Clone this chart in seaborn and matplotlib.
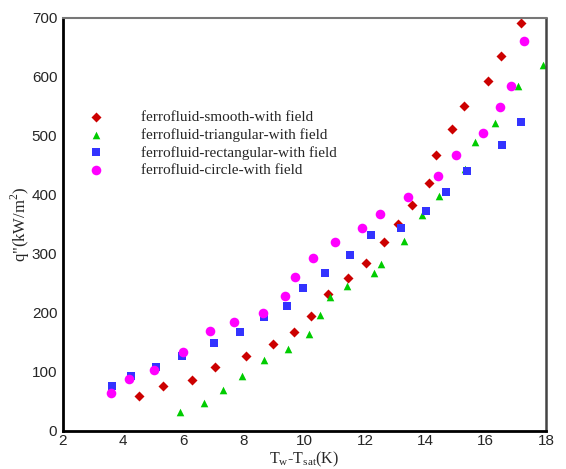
import numpy as np
import pandas as pd
import matplotlib
matplotlib.use("Agg")
import matplotlib.pyplot as plt
import seaborn as sns
from matplotlib.ticker import MultipleLocator

# data
smooth_x = [4.53, 5.31, 6.26, 7.05, 8.05, 8.95, 9.65, 10.2, 10.79, 11.43, 12.05,
            12.63, 13.09, 13.55, 14.13, 14.36, 14.89, 15.28, 16.09, 16.5, 17.18]
smooth_y = [59, 75, 86, 107, 127, 147, 167, 195, 231, 259, 284,
            319, 351, 383, 419, 467, 511, 551, 592, 636, 692]

tri_x = [5.89, 6.68, 7.30, 7.92, 8.67, 9.47, 10.16, 10.50, 10.86, 11.41,
         12.29, 12.52, 13.28, 13.90, 14.45, 15.30, 15.66, 16.30, 17.06, 17.91]
tri_y = [31, 46, 68, 93, 120, 139, 164, 196, 227, 245,
         268, 283, 322, 365, 397, 444, 489, 521, 585, 620]

rect_x = [3.62, 4.26, 5.09, 5.96, 7.0, 7.87, 8.66, 9.42, 9.95, 10.68,
          11.52, 12.21, 13.20, 14.03, 14.68, 15.38, 16.53, 17.16]
rect_y = [76, 92, 108, 127, 148, 167, 192, 212, 241, 268,
          297, 332, 344, 373, 405, 441, 485, 524]

circ_x = [3.58, 4.19, 5.02, 5.98, 6.87, 7.68, 8.62, 9.34, 9.70, 10.29,
          11.01, 11.91, 12.50, 13.43, 14.42, 15.0, 15.91, 16.46, 16.85, 17.27]
circ_y = [63, 88, 103, 134, 168, 184, 200, 228, 260, 292,
          320, 344, 368, 396, 432, 468, 505, 548, 585, 661]

labels = ["ferrofluid-smooth-with field", "ferrofluid-triangular-with field",
          "ferrofluid-rectangular-with field", "ferrofluid-circle-with field"]

# build one long table for seaborn
df = pd.concat([
    pd.DataFrame({"x": smooth_x, "y": smooth_y, "case": labels[0]}),
    pd.DataFrame({"x": tri_x, "y": tri_y, "case": labels[1]}),
    pd.DataFrame({"x": rect_x, "y": rect_y, "case": labels[2]}),
    pd.DataFrame({"x": circ_x, "y": circ_y, "case": labels[3]}),
])

colors = ["#cc0000", "#00cc00", "#3333ff", "#ff00ff"]
markers = ["D", "^", "s", "o"]
sizes = [26, 30, 26, 48]

sns.set_style("white")
plt.rcParams["font.family"] = ["Liberation Sans", "DejaVu Sans"]

fig = plt.figure(figsize=(5.66, 4.69), dpi=100)
ax = fig.add_axes([0.111, 0.082, 0.854, 0.880])

for lab, c, m, s in zip(labels, colors, markers, sizes):
    sns.scatterplot(data=df[df["case"] == lab], x="x", y="y", color=c, marker=m,
                    s=s, linewidth=0, label=lab, ax=ax)

ax.set_xlim(2, 18)
ax.set_ylim(0, 700)
ax.xaxis.set_major_locator(MultipleLocator(2))
ax.xaxis.set_minor_locator(MultipleLocator(0.5))
ax.yaxis.set_major_locator(MultipleLocator(100))
ax.yaxis.set_minor_locator(MultipleLocator(20))
ax.tick_params(which="both", direction="in", top=False, right=False, width=1.5,
               labelsize=11, color="black")
ax.tick_params(which="major", length=7)
ax.tick_params(which="minor", length=3.5)
ax.tick_params(axis="y", which="major", pad=4)
ax.tick_params(axis="x", which="major", pad=2.5)

for side in ["left", "bottom"]:
    ax.spines[side].set_linewidth(2)
    ax.spines[side].set_color("black")
ax.spines["top"].set_linewidth(1.5)
ax.spines["top"].set_color("#777777")
ax.spines["right"].set_linewidth(1.8)
ax.spines["right"].set_color("#444444")

serif = ["Liberation Serif", "DejaVu Serif"]
ax.set_xlabel(r"T$_\mathregular{w}$-T$_\mathregular{sat}$(K)", family=serif,
              fontsize=11.5, labelpad=1)
ax.set_ylabel(r'q"(kW/m$^\mathregular{2}$)', family=serif, fontsize=12, labelpad=0)

leg = ax.legend(loc="upper left", bbox_to_anchor=(0.025, 0.79), frameon=False,
                prop={"family": serif, "size": 11}, handletextpad=1.9,
                labelspacing=0.25, borderaxespad=0)

fig.savefig("out.png", dpi=100)
